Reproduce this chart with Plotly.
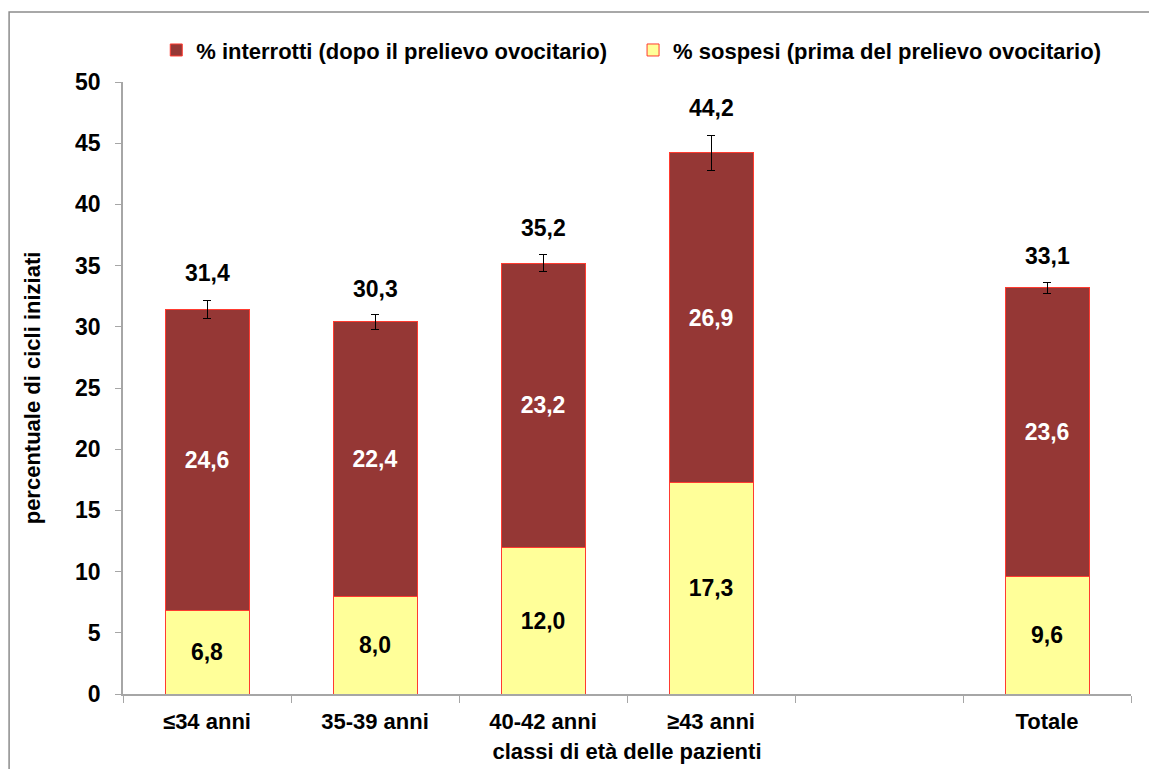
import plotly.graph_objects as go

# dati
categorie = ['≤34 anni', '35-39 anni', '40-42 anni', '≥43 anni', ' ', 'Totale']
sospesi = [6.8, 8.0, 12.0, 17.3, None, 9.6]
interrotti = [24.6, 22.4, 23.2, 26.9, None, 23.6]
totale = [31.4, 30.3, 35.2, 44.2, None, 33.1]
errore = [0.75, 0.6, 0.7, 1.45, None, 0.45]

ROSSO = '#953735'
GIALLO = '#FFFF99'
FONT = 'Liberation Sans, Arial, sans-serif'


def fmt(v):
    return '' if v is None else f'{v:.1f}'.replace('.', ',')


fig = go.Figure()

fig.add_trace(go.Bar(
    name='% sospesi (prima del prelievo ovocitario)', legend='legend2',
    x=categorie, y=sospesi,
    marker=dict(color=GIALLO, line=dict(color='#FF3B30', width=1)),
    text=[fmt(v) for v in sospesi], textposition='inside',
    insidetextanchor='middle', textangle=0,
    textfont=dict(family=FONT, size=23, color='black', weight='bold'),
))
fig.add_trace(go.Bar(
    name='% interrotti (dopo il prelievo ovocitario)', legend='legend',
    x=categorie, y=interrotti,
    marker=dict(color=ROSSO, line=dict(color='#FF3B30', width=1)),
    text=[fmt(v) for v in interrotti], textposition='inside',
    insidetextanchor='middle', textangle=0,
    textfont=dict(family=FONT, size=23, color='white', weight='bold'),
    error_y=dict(type='data', array=errore, color='black', thickness=1, width=4),
))

# etichette dei totali sopra le barre
for c, t, e in zip(categorie, totale, errore):
    if t is None:
        continue
    fig.add_annotation(x=c, y=t + e, text=fmt(t), showarrow=False,
                       yanchor='bottom', yshift=12,
                       font=dict(family=FONT, size=23, color='black', weight='bold'))

# cornice esterna
fig.add_shape(type='rect', xref='paper', yref='paper',
              x0=-0.113, y0=-0.3, x1=1.2, y1=1.1144,
              line=dict(color='#8c8c8c', width=1.5))

legfont = dict(family=FONT, size=22, color='black', weight='bold')
fig.update_layout(
    width=1149, height=761,
    margin=dict(l=115, r=26, t=74, b=75),
    paper_bgcolor='white', plot_bgcolor='white',
    barmode='stack', bargap=0.5,
    font=dict(family=FONT, color='black'),
    legend=dict(orientation='h', x=0.033, y=1.052, xanchor='left', yanchor='middle',
                font=legfont, bgcolor='rgba(0,0,0,0)'),
    legend2=dict(orientation='h', x=0.506, y=1.052, xanchor='left', yanchor='middle',
                 font=legfont, bgcolor='rgba(0,0,0,0)'),
    showlegend=True,
)
fig.update_xaxes(
    type='category', categoryorder='array', categoryarray=categorie,
    automargin=False,
    showline=True, linecolor='#a6a6a6', linewidth=1.5,
    ticks='outside', tickson='boundaries', ticklen=7, tickcolor='#a6a6a6',
    ticklabelstandoff=7,
    tickfont=dict(family=FONT, size=22, color='black', weight='bold'),
    title=dict(text='classi di età delle pazienti', standoff=10,
               font=dict(family=FONT, size=22, color='black', weight='bold')),
    showgrid=False,
)
fig.update_yaxes(
    range=[0, 50], dtick=5, automargin=False,
    showline=True, linecolor='#a6a6a6', linewidth=1.5,
    ticks='outside', ticklen=6, tickcolor='#a6a6a6',
    ticklabelstandoff=10,
    tickfont=dict(family=FONT, size=23, color='black', weight='bold'),
    title=dict(text='percentuale di cicli iniziati', standoff=28,
               font=dict(family=FONT, size=22, color='black', weight='bold')),
    showgrid=False, zeroline=False,
)

fig.write_html('out.html')
